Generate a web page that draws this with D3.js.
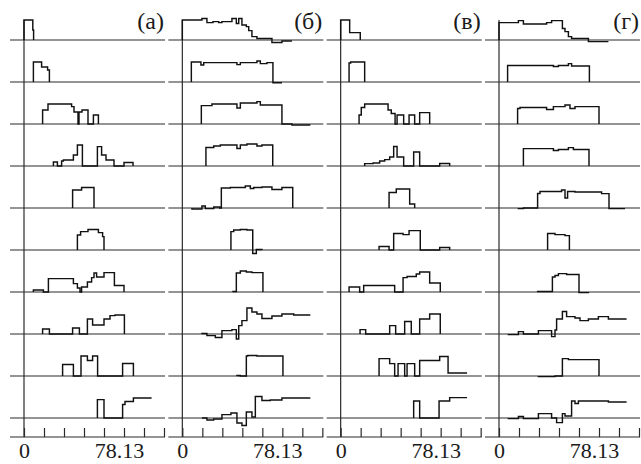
<!DOCTYPE html>
<html>
<head>
<meta charset="utf-8">
<script src="https://cdn.jsdelivr.net/npm/d3@7"></script>
<style>
  body { margin: 0; background: #fff; }
  svg { display: block; }
  .base, .axisline { stroke: #2a2a2a; stroke-width: 1.2; }
  .trace { fill: none; stroke: #111; stroke-width: 1.45; }
  .lbl { font-family: "Liberation Serif", "Times New Roman", Times, serif; fill: #1a1a1a; }
</style>
</head>
<body>
<svg id="chart" width="641" height="464"></svg>
<script>
// each trace: step points [t, level], t in tick units, level holds until next point
var panelA = [
  [[0,1.0],[0.44,0.5],[0.48,0]],
  [[0.47,1.0],[0.88,0.75],[1.18,0.6],[1.27,0]],
  [[0.93,0.7],[1.2,1.0],[2.38,0.87],[2.5,0.6],[2.7,0],[2.75,0.6],[2.9,0.7],[3.2,0],[3.47,0.45],[3.72,0]],
  [[1.47,0.2],[1.67,0],[1.88,0.25],[1.97,0.3],[2.47,0.55],[2.67,1.05],[2.92,0],[3.67,0.97],[3.88,0.55],[4.1,0.3],[4.5,0],[5.0,0.18],[5.45,0]],
  [[2.43,0.9],[2.88,1.03],[3.5,0]],
  [[2.67,0.75],[2.83,0.92],[3.2,1.03],[3.72,0.87],[3.93,0.67],[4.0,0]],
  [[0.47,0.1],[0.97,0],[1.22,0.67],[2.47,0.42],[2.67,0.2],[2.8,0],[2.88,0.25],[3.17,0.5],[3.38,0.72],[3.5,0.95],[3.63,0.75],[4.0,0.97],[4.52,0.33],[5.0,0]],
  [[0.93,0.25],[1.27,0],[2.43,0.3],[2.77,0],[3.17,0.75],[3.43,0.45],[4.0,0.75],[4.3,0.92],[4.55,0.95],[5.02,0]],
  [[1.93,0.58],[2.47,0],[2.85,1.0],[3.17,0.78],[3.43,1.0],[3.68,0],[4.93,0.63],[5.47,0]],
  [[3.67,0.92],[4.0,0],[4.93,0.68],[5.05,0.83],[5.47,1.0],[6.38,1.0]]
];
var panelB = [
  [[0,1.0],[0.98,1.08],[1.23,0.87],[1.53,0.92],[1.82,0.87],[1.98,0.92],[2.48,1.08],[2.7,0.83],[2.82,1.08],[2.98,0.75],[3.2,0.67],[3.32,0.47],[3.48,0.17],[3.73,0.08],[4.48,-0.12],[4.98,-0.05],[5.48,-0.05]],
  [[0.45,1.0],[0.93,0.85],[1.07,0.97],[2.73,0.87],[2.9,0.97],[3.73,1.05],[3.9,0.92],[4.23,0.97],[4.53,-0.04],[4.98,-0.04]],
  [[0.95,0.92],[1.48,1.0],[2.73,0.8],[2.9,1.05],[3.73,1.12],[3.9,0.95],[4.98,0],[5.48,-0.05],[6.4,-0.05]],
  [[1.18,0.93],[1.57,1.0],[1.9,1.05],[2.73,0.88],[2.9,1.05],[3.23,1.1],[3.73,1.0],[3.98,1.05],[4.52,0]],
  [[0.48,-0.05],[0.98,0.1],[1.15,-0.03],[1.57,0.05],[1.87,0],[1.95,1.0],[2.4,1.03],[3.15,1.1],[3.4,0.98],[3.57,1.03],[3.98,1.05],[4.48,0.93],[4.98,1.03],[5.52,0]],
  [[2.43,0.92],[2.57,1.0],[2.9,1.03],[3.23,1.0],[3.52,-0.17],[3.7,0.03],[3.98,0]],
  [[2.53,0.03],[2.7,0.95],[2.9,1.05],[3.2,1.0],[3.48,0.97],[4.03,0]],
  [[0.98,0.03],[1.23,-0.08],[1.65,-0.17],[1.98,0.17],[2.48,0.22],[2.7,-0.25],[2.82,0.42],[2.98,0.67],[3.23,1.3],[3.48,1.1],[3.73,1.0],[3.98,0.78],[4.48,0.9],[4.98,1.0],[5.57,0.95],[6.4,0.95]],
  [[2.73,0.03],[2.9,0],[3.2,1.0],[3.27,1.03],[3.73,1.0],[5.03,0]],
  [[0.98,0],[1.23,-0.1],[1.57,-0.05],[1.98,0.17],[2.43,0.25],[2.73,-0.25],[2.98,-0.37],[3.2,0.3],[3.48,0.05],[3.65,1.08],[3.98,0.88],[4.4,0.9],[4.98,1.0],[6.4,1.0]]
];
var panelC = [
  [[0,1.0],[0.45,0.37],[0.98,0]],
  [[0.42,0.95],[0.5,1.0],[1.2,0]],
  [[0.92,0.45],[1.03,0.83],[1.2,1.0],[2.37,0.7],[2.53,0.53],[2.72,0],[2.82,0.45],[3.15,0],[3.42,0.45],[3.7,0],[3.95,0.57],[4.45,0]],
  [[1.2,0.12],[1.62,0.15],[1.95,0.25],[2.2,0.32],[2.45,0.45],[2.65,0.98],[2.82,0.45],[3.15,0],[3.65,0.7],[3.95,0],[4.95,0.13],[5.45,0]],
  [[2.42,0.78],[2.78,0.95],[3.45,0.2],[3.7,0]],
  [[1.92,0.18],[2.42,0],[2.65,0.83],[3.12,0.77],[3.42,0.97],[3.98,0],[4.95,0.13],[5.45,0]],
  [[0.42,0.25],[0.95,0],[1.15,0.33],[2.7,0],[3.12,0.72],[3.32,0.78],[3.78,0.9],[3.95,1.0],[4.45,0.45],[4.98,0]],
  [[0.97,0.22],[1.25,0],[2.45,0.42],[2.75,0],[3.2,0.63],[3.53,0],[3.95,0.75],[4.45,1.0],[4.98,0]],
  [[1.92,0.87],[2.45,0.62],[2.7,0],[2.87,0.62],[3.2,0],[3.32,0.62],[3.7,0],[3.95,0.78],[4.95,0.98],[5.37,0.15],[6.32,0.15]],
  [[3.65,0.85],[3.95,0],[4.92,0.85],[5.45,1.02],[6.32,1.02]]
];
var panelD = [
  [[0,0.87],[0.97,0.97],[1.22,0.8],[2.38,0.87],[2.63,0.97],[3.17,0.58],[3.3,0.42],[3.47,0.17],[3.63,0.08],[4.47,-0.08],[5.47,-0.08]],
  [[0.43,0.83],[2.72,0.78],[2.97,0.83],[3.47,0.92],[3.63,0.8],[4.52,0]],
  [[0.93,0.78],[1.05,0.83],[2.38,0.73],[2.72,0.87],[3.3,0.95],[3.55,0.78],[3.8,0.87],[5.0,0]],
  [[1.22,0.87],[2.72,0.78],[2.97,0.83],[3.47,0.92],[3.72,0.83],[4.5,0]],
  [[0.97,-0.03],[1.22,0],[1.93,0.73],[2.05,0.83],[3.13,0.9],[3.3,0.5],[3.43,0.83],[3.8,0.8],[5.13,0.72],[5.5,-0.03],[6.3,-0.03]],
  [[2.43,0.83],[2.8,0.77],[3.3,0.72],[3.52,0]],
  [[1.93,0.03],[2.67,0.75],[2.8,0.83],[2.97,0.92],[3.38,0.88],[4.0,-0.03],[4.47,0]],
  [[0.47,-0.03],[0.97,0.12],[1.22,0],[1.97,0.17],[2.63,-0.13],[2.8,0.2],[2.88,0.75],[3.17,1.13],[3.38,0.87],[3.8,0.8],[4.05,0.67],[4.47,0.75],[4.97,0.87],[5.47,0.75],[6.38,0.75]],
  [[1.97,-0.03],[2.8,0],[3.17,0.87],[3.47,0.82],[5.0,0]],
  [[0.47,-0.03],[0.97,0.08],[1.22,-0.03],[1.97,0.22],[2.63,0],[2.88,-0.23],[3.17,0.22],[3.3,0.1],[3.63,0.85],[3.8,0.73],[3.97,0.85],[5.47,0.8],[6.38,0.8]]
];
var panels = [panelA, panelB, panelC, panelD];
var panelLabels = ["(а)", "(б)", "(в)", "(г)"];
var tickValues = [0, 1, 2, 3, 4, 5, 6, 7];
var tickLabels = {0: "0", 5: "78.13"};

var svg = d3.select("#chart");

var panelX = d3.scaleLinear().domain([0, 3]).range([24, 499]);
var rowY = d3.scaleLinear().domain([0, 9]).range([40, 418]);
var x = d3.scaleLinear().domain([0, 7]).range([0, 140]);
var amp = d3.scaleLinear().domain([0, 1]).range([0, -20]);
var axisY = 437;

var line = d3.line()
  .x(d => x(d[0]))
  .y(d => amp(d[1]))
  .curve(d3.curveStepAfter);

panels.forEach(function(traces, p) {
  var g = svg.append("g").attr("transform", `translate(${panelX(p)},0)`);

  // baselines of the traces
  g.selectAll("line.base")
    .data(traces).enter()
    .append("line")
    .attr("class", "base")
    .attr("x1", -14).attr("x2", 141)
    .attr("y1", (d, i) => rowY(i)).attr("y2", (d, i) => rowY(i));

  // vertical axis
  g.append("line")
    .attr("class", "axisline")
    .attr("x1", 0).attr("x2", 0)
    .attr("y1", 20).attr("y2", axisY);

  // traces
  g.selectAll("path.trace")
    .data(traces).enter()
    .append("path")
    .attr("class", "trace")
    .attr("transform", (d, i) => `translate(0,${rowY(i)})`)
    .attr("d", d => line([[d[0][0], 0]].concat(d)));

  // x axis, ticks pointing up
  var ax = g.append("g")
    .attr("transform", `translate(0,${axisY})`)
    .call(d3.axisBottom(x)
      .tickValues(tickValues)
      .tickSize(-9)
      .tickSizeOuter(0)
      .tickPadding(5)
      .tickFormat(v => tickLabels[v] || ""));
  ax.select(".domain").remove();
  ax.selectAll(".tick line").attr("stroke", "#2a2a2a").attr("stroke-width", 1.2);
  ax.selectAll(".tick text")
    .attr("class", "lbl")
    .attr("font-size", 22)
    .attr("fill", "#1a1a1a")
    .attr("dx", v => v ? -5 : 0);
  g.append("line")
    .attr("class", "axisline")
    .attr("x1", -14).attr("x2", 141)
    .attr("y1", axisY).attr("y2", axisY);

  // panel label
  g.append("text")
    .attr("class", "lbl")
    .attr("x", 140).attr("y", 29)
    .attr("text-anchor", "end")
    .attr("font-size", 24)
    .text(panelLabels[p]);
});
</script>
</body>
</html>
